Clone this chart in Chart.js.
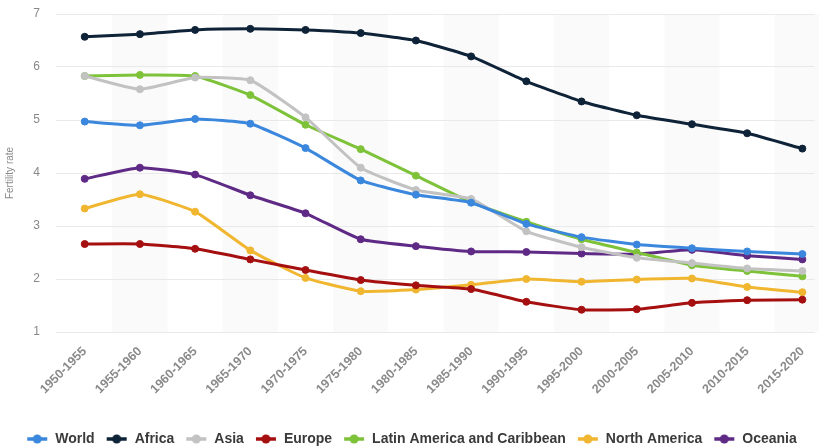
<!DOCTYPE html>
<html>
<head>
<meta charset="utf-8">
<script src="https://cdn.jsdelivr.net/npm/chart.js@4/dist/chart.umd.min.js"></script>
<style>
  html, body { margin:0; padding:0; background:#fff; }
  #wrap { width:819px; height:448px; }
</style>
</head>
<body>
<div id="wrap"><canvas id="fertilityChart"></canvas></div>
<script>
// Periods & series
const periods = ['1950-1955','1955-1960','1960-1965','1965-1970','1970-1975','1975-1980','1980-1985',
  '1985-1990','1990-1995','1995-2000','2000-2005','2005-2010','2010-2015','2015-2020'];
const world        = [4.97,4.90,5.02,4.93,4.47,3.86,3.59,3.44,3.04,2.79,2.65,2.58,2.52,2.47];
const africa       = [6.57,6.62,6.70,6.72,6.70,6.64,6.50,6.20,5.73,5.35,5.09,4.92,4.75,4.46];
const asia         = [5.83,5.58,5.80,5.75,5.05,4.10,3.68,3.51,2.90,2.60,2.40,2.30,2.20,2.15];
const europe       = [2.66,2.66,2.57,2.37,2.17,1.98,1.88,1.81,1.57,1.42,1.43,1.55,1.60,1.61];
const latinAmerica = [5.83,5.85,5.83,5.47,4.91,4.45,3.95,3.45,3.08,2.75,2.50,2.26,2.15,2.05];
const northAmerica = [3.33,3.60,3.27,2.54,2.02,1.77,1.80,1.89,2.00,1.95,1.99,2.01,1.85,1.75];
const oceania      = [3.89,4.10,3.97,3.58,3.24,2.75,2.62,2.52,2.51,2.48,2.47,2.55,2.44,2.37];
const yTicks = [1,2,3,4,5,6,7];

const FONT = '"Liberation Sans", Arial, sans-serif';

function series(label, values, color) {
  return {
    label, borderColor: color, backgroundColor: color,
    data: values.map((v, i) => ({ x: i, y: v })),
    borderWidth: 3, pointRadius: 3.5, pointBorderWidth: 1, pointHoverRadius: 3.5, tension: 0.15
  };
}

// legend marker: short line with a dot
function marker(color) {
  const c = document.createElement('canvas');
  c.width = 22; c.height = 10;
  const g = c.getContext('2d');
  g.strokeStyle = color; g.fillStyle = color; g.lineWidth = 3.5;
  g.beginPath(); g.moveTo(1, 5); g.lineTo(21, 5); g.stroke();
  g.beginPath(); g.arc(11, 5, 4.5, 0, Math.PI * 2); g.fill();
  return c;
}

// alternating column bands
const bands = {
  id: 'bands',
  beforeDraw(chart) {
    const { ctx, chartArea: a, scales: { x } } = chart;
    ctx.save();
    ctx.fillStyle = '#fafafa';
    periods.forEach((p, i) => {
      if (i % 2 === 0) return;
      const l = x.getPixelForValue(i - 0.5), r = x.getPixelForValue(i + 0.5);
      ctx.fillRect(l, a.top, r - l, a.bottom - a.top);
    });
    ctx.restore();
  }
};

new Chart(document.getElementById('fertilityChart').getContext('2d'), {
  type: 'line',
  data: {
    datasets: [
      series('World', world, '#3a87dd'),
      series('Africa', africa, '#0e2238'),
      series('Asia', asia, '#c2c2c2'),
      series('Europe', europe, '#a50f0f'),
      series('Latin America and Caribbean', latinAmerica, '#7ec23a'),
      series('North America', northAmerica, '#f0b630'),
      series('Oceania', oceania, '#5f2a86')
    ]
  },
  plugins: [bands],
  options: {
    responsive: true, maintainAspectRatio: false, animation: false,
    layout: { padding: { top: 0, right: 0, bottom: -8, left: 4 } },
    scales: {
      x: {
        type: 'linear', min: -0.52, max: 13.22,
        afterBuildTicks: s => { s.ticks = periods.map((p, i) => ({ value: i })); },
        ticks: {
          callback: v => periods[v], autoSkip: false, maxRotation: 45, minRotation: 45,
          color: '#8a8a8a', font: { family: FONT, size: 12.5, weight: 'bold' }, padding: 4
        },
        grid: { display: false },
        border: { display: false },
        afterFit: s => { s.height = 89; }
      },
      y: {
        min: 1, max: 7,
        afterBuildTicks: s => { s.ticks = yTicks.map(v => ({ value: v })); },
        ticks: { color: '#888', font: { family: FONT, size: 12 }, padding: 16 },
        grid: { color: '#e9e9e9', drawTicks: false },
        border: { display: false },
        title: { display: true, text: 'Fertility rate', color: '#888', font: { family: FONT, size: 10 }, padding: 0 },
        afterFit: s => { s.width = 52; s.paddingTop = 14; s.paddingBottom = 0; }
      }
    },
    plugins: {
      legend: {
        position: 'bottom',
        labels: {
          usePointStyle: true, pointStyleWidth: 22, boxHeight: 10, padding: 11,
          color: '#3a3a3a', font: { family: FONT, size: 14, weight: 'bold' },
          generateLabels: chart => Chart.defaults.plugins.legend.labels.generateLabels(chart)
            .map(item => Object.assign(item, { pointStyle: marker(item.strokeStyle) }))
        }
      },
      tooltip: { enabled: false }
    }
  }
});
</script>
</body>
</html>
